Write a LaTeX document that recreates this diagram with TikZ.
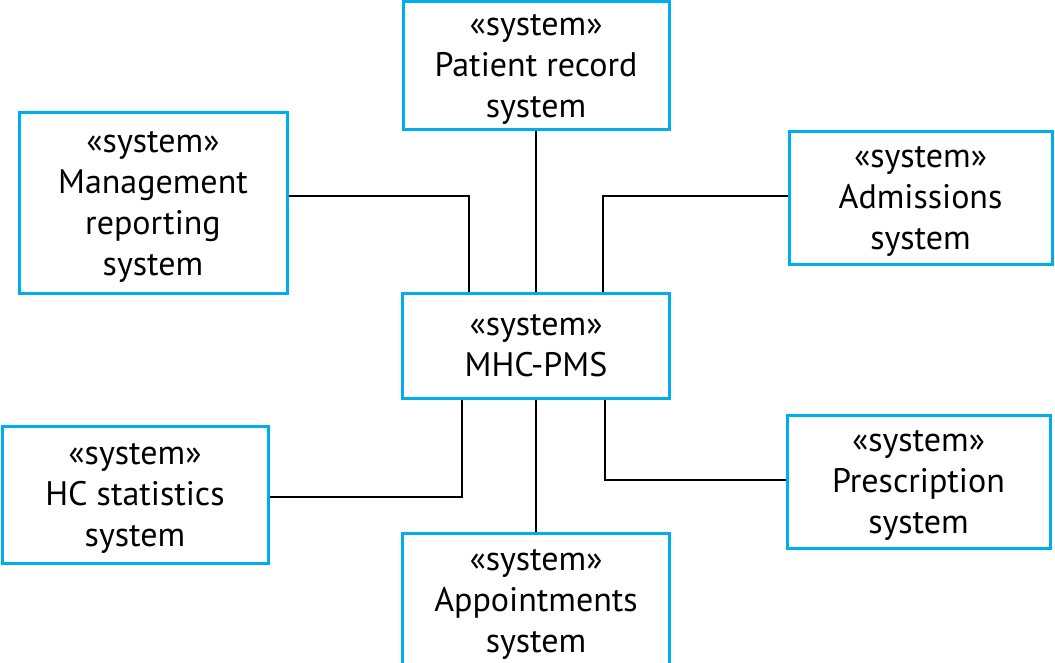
\documentclass[tikz,border=0pt]{standalone}
\usepackage{fontspec}
\setmainfont{PT Sans}
\usepackage{tikz}
\usetikzlibrary{calc,positioning}
\definecolor{boxblue}{RGB}{0,174,239}

\begin{document}
\begin{tikzpicture}[x=1pt,y=-1pt,
    sysbox/.style={draw=boxblue,line width=3pt,fill=white,align=center,
      inner sep=0pt,text depth=0pt,font=\fontsize{34}{41}\selectfont},
    link/.style={line width=1.6pt}]
    \useasboundingbox (0,0) rectangle (1055,663);
    \node[sysbox,minimum width=266,minimum height=128] (pr) at (536,66) {«system»\\Patient record\\system};
    \node[sysbox,minimum width=267,minimum height=105] (mhc) at (536,345.5) {«system»\\MHC-PMS};
    \node[sysbox,minimum width=268,minimum height=180] (mgmt) at (153,203) {«system»\\Management\\reporting\\system};
    \node[sysbox,minimum width=263,minimum height=132] (adm) at (920.5,198) {«system»\\Admissions\\system};
    \node[sysbox,minimum width=266,minimum height=137] (hcs) at (135,494.5) {«system»\\HC statistics\\system};
    \node[sysbox,minimum width=263,minimum height=133] (presc) at (918.5,481.5) {«system»\\Prescription\\system};
    \node[sysbox,minimum width=267,minimum height=135] (appt) at (536,600.5) {«system»\\Appointments\\system};
    \draw[link] (pr.south) -- (mhc.north);
    \draw[link] ($(mgmt.east)+(0,-7)$) -| ($(mhc.north)+(-67,0)$);
    \draw[link] ($(adm.west)+(0,-2)$) -| ($(mhc.north)+(67,0)$);
    \draw[link] ($(hcs.east)+(0,2.5)$) -| ($(mhc.south)+(-74,0)$);
    \draw[link] (appt.north) -- (mhc.south);
    \draw[link] ($(presc.west)+(0,-1.5)$) -| ($(mhc.south)+(69,0)$);
\end{tikzpicture}
\end{document}
